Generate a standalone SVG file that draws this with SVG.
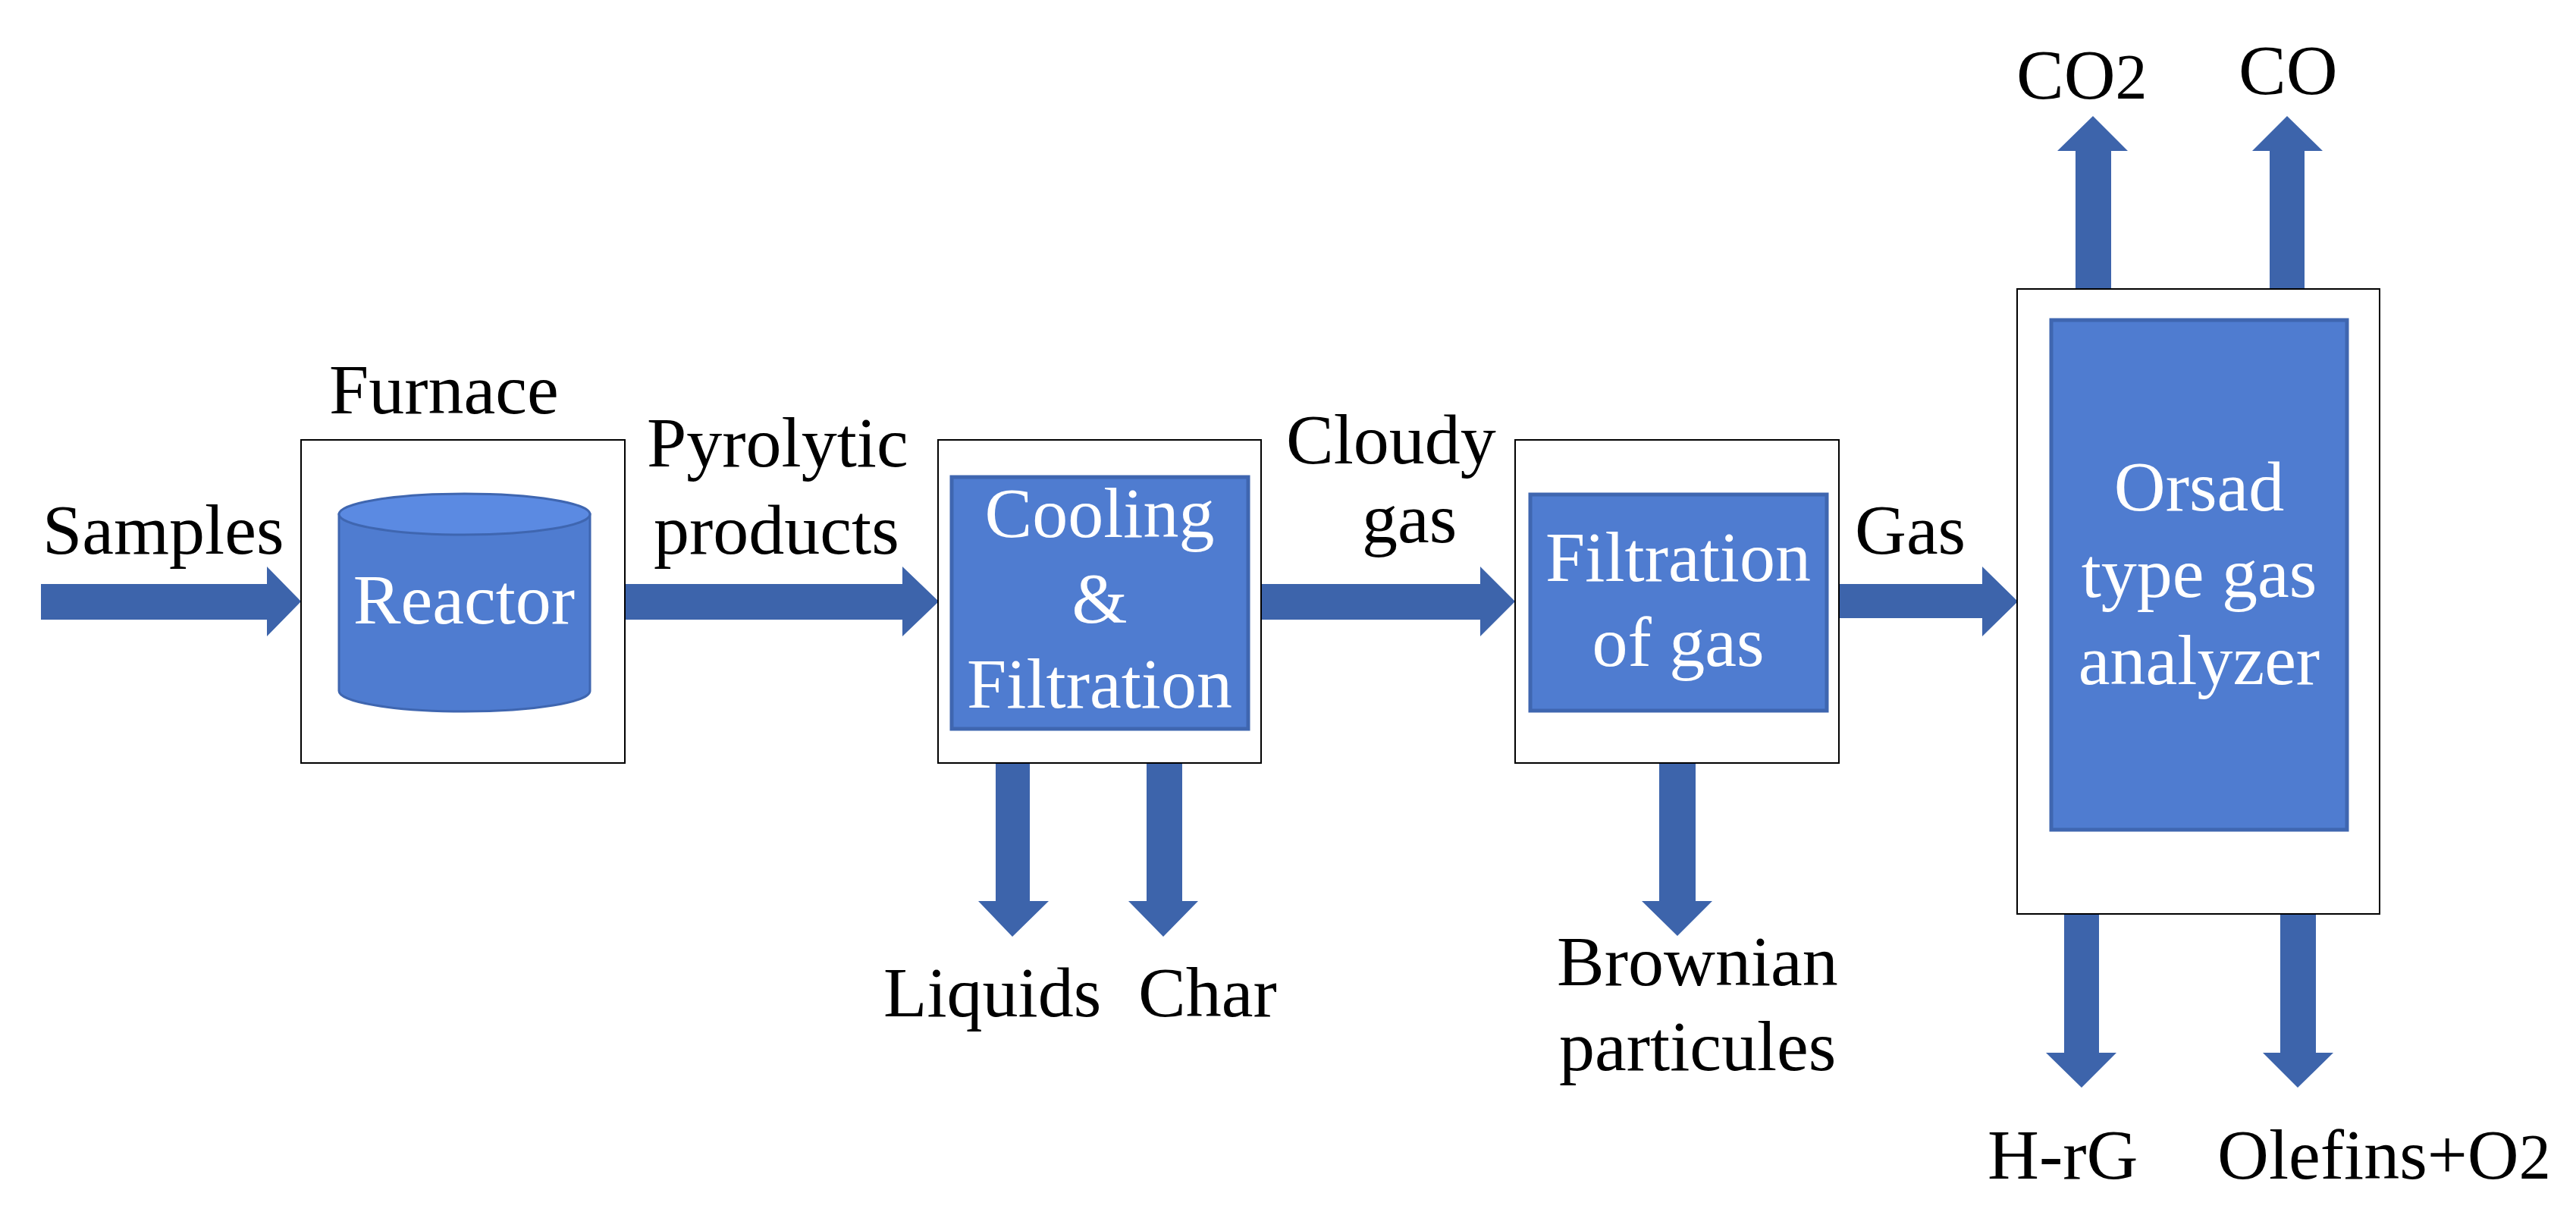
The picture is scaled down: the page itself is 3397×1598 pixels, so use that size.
<svg xmlns="http://www.w3.org/2000/svg" width="3397" height="1598" viewBox="0 0 3397 1598" font-family="'Liberation Serif', 'DejaVu Serif', serif">
<style>
text{font-family:'Liberation Serif','DejaVu Serif',serif;font-size:94px}
.t{fill:#000}
.w{fill:#fff;text-anchor:middle}
.box{fill:#fff;stroke:#000;stroke-width:2}
.inner{fill:#4f7cd0;stroke:#3f66b0;stroke-width:5}
.arr{fill:#3d64ab}
</style>
<rect width="3397" height="1598" fill="#fff"/>
<g id="connectors">
<polygon class="arr" points="54,770 352,770 352,747 397,793 352,839 352,817 54,817"/>
<polygon class="arr" points="824,770 1190,770 1190,747 1238,793 1190,839 1190,817 824,817"/>
<polygon class="arr" points="1663,770 1952,770 1952,747 1998,793 1952,839 1952,817 1663,817"/>
<polygon class="arr" points="2425,770 2614,770 2614,747 2661,793 2614,839 2614,815 2425,815"/>
<polygon class="arr" points="1313,1006 1358,1006 1358,1188 1383,1188 1335,1235 1290,1188 1313,1188"/>
<polygon class="arr" points="1512,1006 1559,1006 1559,1188 1580,1188 1534,1235 1488,1188 1512,1188"/>
<polygon class="arr" points="2188,1006 2236,1006 2236,1188 2258,1188 2212,1234 2165,1188 2188,1188"/>
<polygon class="arr" points="2722,1205 2768,1205 2768,1388 2791,1388 2745,1434 2698,1388 2722,1388"/>
<polygon class="arr" points="3007,1205 3054,1205 3054,1388 3077,1388 3030,1434 2984,1388 3007,1388"/>
<polygon class="arr" points="2737,381 2784,381 2784,199 2806,199 2760,153 2713,199 2737,199"/>
<polygon class="arr" points="2993,381 3039,381 3039,199 3063,199 3016,153 2970,199 2993,199"/>
</g>
<g id="furnace">
<rect class="box" x="397" y="580" width="427" height="426"/>
<text class="t" x="434" y="545">Furnace</text>
<path d="M447,678 L447,911 A165.5,27 0 0 0 778,911 L778,678 Z" fill="#4f7cd0" stroke="#3f66b0" stroke-width="3"/>
<ellipse cx="612.5" cy="678" rx="165.5" ry="27" fill="#5b8ae2" stroke="#3f66b0" stroke-width="3"/>
<text class="w" x="612" y="822">Reactor</text>
</g>
<g id="cooling">
<rect class="box" x="1237" y="580" width="426" height="426"/>
<rect class="inner" x="1255" y="629" width="391" height="332"/>
<text class="w" x="1450" y="708">Cooling</text>
<text class="w" x="1450" y="820">&amp;</text>
<text class="w" x="1450" y="933">Filtration</text>
</g>
<g id="filtration">
<rect class="box" x="1998" y="580" width="427" height="426"/>
<rect class="inner" x="2018" y="652" width="391" height="285"/>
<text class="w" x="2213" y="766">Filtration</text>
<text class="w" x="2213" y="878">of gas</text>
</g>
<g id="analyzer">
<rect class="box" x="2660" y="381" width="478" height="824"/>
<rect class="inner" x="2705" y="422" width="390" height="672"/>
<text class="w" x="2900" y="673">Orsad</text>
<text class="w" x="2900" y="787">type gas</text>
<text class="w" x="2900" y="902">analyzer</text>
</g>
<g id="labels">
<text class="t" x="56" y="730">Samples</text>
<text class="t" x="853" y="615">Pyrolytic</text>
<text class="t" x="862" y="730">products</text>
<text class="t" x="1696" y="611">Cloudy</text>
<text class="t" x="1796" y="715">gas</text>
<text class="t" x="2446" y="730">Gas</text>
<text class="t" x="1165" y="1340">Liquids</text>
<text class="t" x="1501" y="1340">Char</text>
<text class="t" x="2053" y="1299">Brownian</text>
<text class="t" x="2056" y="1411">particules</text>
<text class="t" x="2621" y="1554">H-rG</text>
<text class="t" x="2924" y="1554">Olefins+O<tspan font-size="84">2</tspan></text>
<text class="t" x="2659" y="130">CO<tspan font-size="84">2</tspan></text>
<text class="t" x="2952" y="124">CO</text>
</g>
</svg>
